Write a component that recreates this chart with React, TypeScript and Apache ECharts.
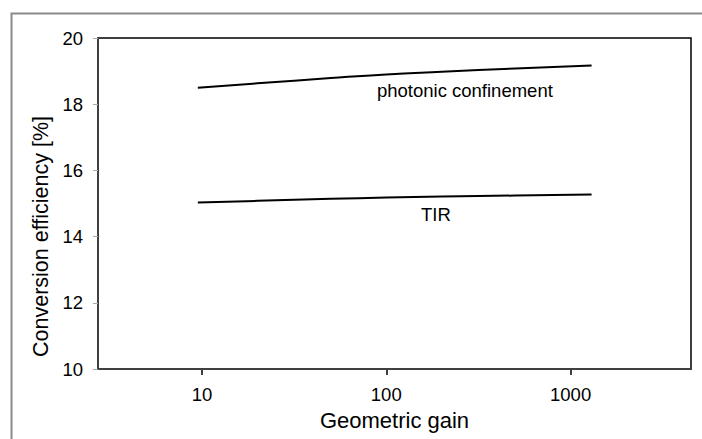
import React, { useEffect, useRef } from "react";
import * as echarts from "echarts";

const gains = [9.5, 20, 50, 100, 200, 500, 1300];
const photonic = [18.5, 18.63, 18.79, 18.9, 18.98, 19.08, 19.17];
const tir = [15.03, 15.08, 15.14, 15.18, 15.21, 15.24, 15.27];
const xTickValues = [10, 100, 1000];
const yTicks = { min: 10, max: 20, interval: 2 };
const xRange = { min: 2.73, max: 4500 };
const labelPhotonic = { text: "photonic confinement", gain: 267, value: 18.42 };
const labelTIR = { text: "TIR", gain: 186, value: 14.67 };

const FONT = "'Liberation Sans', Arial, sans-serif";

export default function App() {
  const ref = useRef<HTMLDivElement>(null);
  useEffect(() => {
    if (!ref.current) return;
    const chart = echarts.init(ref.current, null, { renderer: "svg" });
    const lg = (v: number) => Math.log10(v);
    const mk = (arr: number[]) => gains.map((g, i) => [lg(g), arr[i]]);
    const textLabel = (l: { text: string; gain: number; value: number }) => ({
      symbol: "circle",
      symbolSize: 0,
      silent: true,
      data: [
        {
          coord: [lg(l.gain), l.value],
          label: {
            show: true,
            formatter: l.text,
            position: "inside",
            color: "#000",
            fontSize: 18.5,
            fontFamily: FONT,
          },
        },
      ],
    });
    chart.setOption({
      animation: false,
      backgroundColor: "#fff",
      textStyle: { fontFamily: FONT },
      graphic: [
        {
          type: "rect",
          left: 9,
          top: 11,
          shape: { width: 800, height: 600 },
          style: { fill: "none", stroke: "#8a8a8a", lineWidth: 2 },
          silent: true,
        },
      ],
      grid: {
        left: 98,
        top: 38,
        right: 11,
        bottom: 70,
        outerBoundsMode: "none",
        containLabel: false,
        show: true,
        borderColor: "#000",
        borderWidth: 1.5,
        backgroundColor: "transparent",
      },
      xAxis: {
        type: "value",
        min: lg(xRange.min),
        max: lg(xRange.max),
        name: "Geometric gain",
        nameLocation: "middle",
        nameGap: 40,
        nameTextStyle: { fontSize: 22, color: "#000", fontFamily: FONT },
        axisLine: { show: true, lineStyle: { color: "#404040", width: 2 } },
        axisTick: {
          show: true,
          length: 6,
          customValues: xTickValues.map(lg),
          lineStyle: { color: "#404040", width: 2 },
        },
        axisLabel: {
          customValues: xTickValues.map(lg),
          formatter: (v: number) => String(Math.round(Math.pow(10, v))),
          fontSize: 18.5,
          color: "#000",
          margin: 16,
          fontFamily: FONT,
        },
        splitLine: { show: false },
      },
      yAxis: {
        type: "value",
        min: yTicks.min,
        max: yTicks.max,
        interval: yTicks.interval,
        name: "Conversion efficiency [%]",
        nameLocation: "middle",
        nameGap: 46,
        nameTextStyle: {
          fontSize: 21.5,
          color: "#000",
          fontFamily: FONT,
          padding: [0, 66, 0, 0],
        },
        axisLine: { show: true, lineStyle: { color: "#404040", width: 2 } },
        axisTick: { show: true, length: 5, lineStyle: { color: "#aaa", width: 1 } },
        axisLabel: { fontSize: 18.5, color: "#000", margin: 15, fontFamily: FONT },
        splitLine: { show: false },
      },
      series: [
        {
          type: "line",
          name: "photonic confinement",
          data: mk(photonic),
          smooth: true,
          showSymbol: false,
          lineStyle: { color: "#000", width: 2 },
          markPoint: textLabel(labelPhotonic),
        },
        {
          type: "line",
          name: "TIR",
          data: mk(tir),
          smooth: true,
          showSymbol: false,
          lineStyle: { color: "#000", width: 2 },
          markPoint: textLabel(labelTIR),
        },
      ],
    });
    return () => chart.dispose();
  }, []);
  return (
    <div
      ref={ref}
      style={{ position: "fixed", left: 0, top: 0, width: 702, height: 439 }}
    />
  );
}
